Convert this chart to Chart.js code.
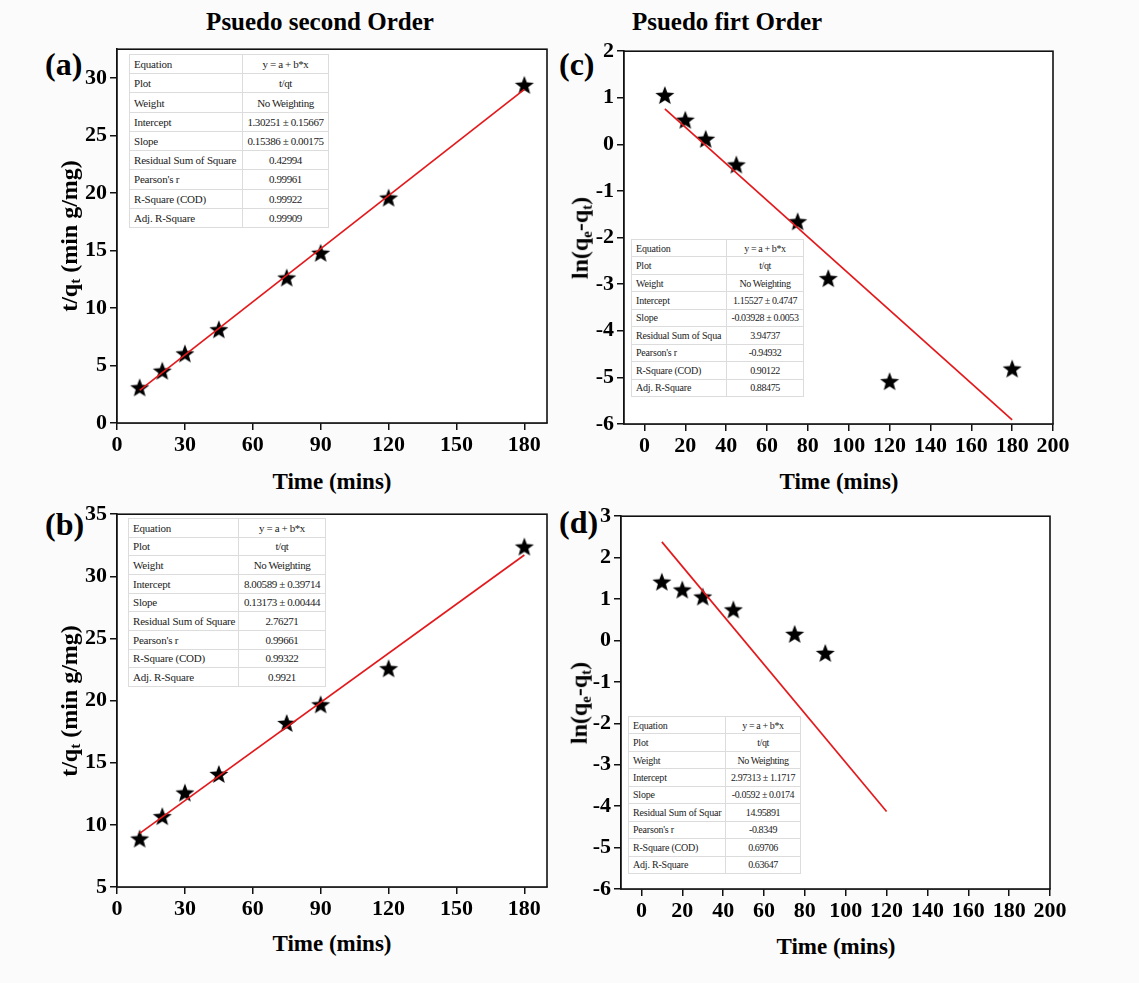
<!DOCTYPE html>
<html>
<head>
<meta charset="utf-8">
<script src="https://cdn.jsdelivr.net/npm/chart.js@4.4.1/dist/chart.umd.min.js"></script>
<style>
  html, body {
    margin: 0;
    padding: 0;
    width: 1139px;
    height: 983px;
    background: #fbfbfb;
    overflow: hidden;
    font-family: 'Liberation Serif', 'Times New Roman', serif;
  }
  canvas {
    position: absolute;
  }
  .txt {
    position: absolute;
    font-weight: bold;
    color: #000;
    white-space: nowrap;
    line-height: 1;
  }
  .title {
    font-size: 25px;
    transform: translate(-50%, -50%);
  }
  .panel-label {
    font-size: 32px;
    transform: translateY(-50%);
  }
  .xtitle {
    font-size: 23px;
    transform: translate(-50%, -50%);
  }
  .ytitle {
    font-size: 24px;
    transform: translate(-50%, -50%) rotate(-90deg);
  }
  .ytitle sub {
    font-size: 0.62em;
    vertical-align: -0.25em;
  }
  table.fit {
    position: absolute;
    border-collapse: collapse;
    background: #fff;
    border: 1.5px solid #9a9a9a;
    color: #222;
    font-family: 'Liberation Serif', serif;
    table-layout: fixed;
  }
  table.fit td {
    border: 1px solid #dcdcdc;
    padding: 0 0 0 4px;
    white-space: nowrap;
    overflow: hidden;
    letter-spacing: -0.2px;
  }
  table.fit td.val {
    text-align: center;
    padding: 0;
    letter-spacing: -0.4px;
  }
</style>
</head>
<body>
<div class="txt title" style="left:320px;top:21px;">Psuedo second Order</div>
<div class="txt title" style="left:727px;top:21px;">Psuedo firt Order</div>

<div class="txt panel-label" style="left:45px;top:64px;">(a)</div>
<div class="txt panel-label" style="left:45px;top:524px;">(b)</div>
<div class="txt panel-label" style="left:559px;top:64px;">(c)</div>
<div class="txt panel-label" style="left:559px;top:522px;">(d)</div>

<canvas id="chartA" width="501" height="426" style="left:62px;top:33px;"></canvas>
<canvas id="chartB" width="501" height="425" style="left:62px;top:498px;"></canvas>
<canvas id="chartC" width="504" height="425" style="left:569px;top:35px;"></canvas>
<canvas id="chartD" width="504" height="425" style="left:566px;top:500px;"></canvas>

<div class="txt ytitle" style="left:70px;top:236px;">t/q<sub>t</sub> (min g/mg)</div>
<div class="txt ytitle" style="left:70px;top:701px;">t/q<sub>t</sub> (min g/mg)</div>
<div class="txt ytitle" style="left:581px;top:238px;">ln(q<sub>e</sub>-q<sub>t</sub>)</div>
<div class="txt ytitle" style="left:580px;top:703px;">ln(q<sub>e</sub>-q<sub>t</sub>)</div>

<div class="txt xtitle" style="left:332px;top:481px;">Time (mins)</div>
<div class="txt xtitle" style="left:332px;top:943px;">Time (mins)</div>
<div class="txt xtitle" style="left:839px;top:481px;">Time (mins)</div>
<div class="txt xtitle" style="left:836px;top:946px;">Time (mins)</div>

<script>
// ---- data ----
const timeMins = [10, 20, 30, 45, 75, 90, 120, 180];
const timeMinsD = [10, 20, 30, 45, 75, 90];

const secondOrderA = [3.1, 4.55, 6.05, 8.15, 12.65, 14.8, 19.6, 29.4];
const secondOrderB = [8.9, 10.7, 12.6, 14.1, 18.2, 19.7, 22.6, 32.4];
const firstOrderC = [1.06, 0.53, 0.12, -0.43, -1.65, -2.87, -5.08, -4.81];
const firstOrderD = [1.42, 1.23, 1.06, 0.75, 0.16, -0.3];

// fitted line end points
const fitXA = [10, 180];
const fitYA = [2.84, 29.0];
const fitXB = [10, 180];
const fitYB = [9.32, 31.72];
const fitXC = [10, 180];
const fitYC = [0.76, -5.91];
const fitXD = [10, 120];
const fitYD = [2.38, -4.13];

// tick labels
const xTicksSecond = [0, 30, 60, 90, 120, 150, 180];
const xTicksFirst = [0, 20, 40, 60, 80, 100, 120, 140, 160, 180, 200];
const yTicksA = [0, 5, 10, 15, 20, 25, 30];
const yTicksB = [5, 10, 15, 20, 25, 30, 35];
const yTicksC = [-6, -5, -4, -3, -2, -1, 0, 1, 2];
const yTicksD = [-6, -5, -4, -3, -2, -1, 0, 1, 2, 3];

// fit tables
const tableLabels = ['Equation', 'Plot', 'Weight', 'Intercept', 'Slope', 'Residual Sum of Square', "Pearson's r", 'R-Square (COD)', 'Adj. R-Square'];
const tableLabelsC = ['Equation', 'Plot', 'Weight', 'Intercept', 'Slope', 'Residual Sum of Squa', "Pearson's r", 'R-Square (COD)', 'Adj. R-Square'];
const tableLabelsD = ['Equation', 'Plot', 'Weight', 'Intercept', 'Slope', 'Residual Sum of Squar', "Pearson's r", 'R-Square (COD)', 'Adj. R-Square'];
const tableValuesA = ['y = a + b*x', 't/qt', 'No Weighting', '1.30251 ± 0.15667', '0.15386 ± 0.00175', '0.42994', '0.99961', '0.99922', '0.99909'];
const tableValuesB = ['y = a + b*x', 't/qt', 'No Weighting', '8.00589 ± 0.39714', '0.13173 ± 0.00444', '2.76271', '0.99661', '0.99322', '0.9921'];
const tableValuesC = ['y = a + b*x', 't/qt', 'No Weighting', '1.15527 ± 0.4747', '-0.03928 ± 0.0053', '3.94737', '-0.94932', '0.90122', '0.88475'];
const tableValuesD = ['y = a + b*x', 't/qt', 'No Weighting', '2.97313 ± 1.1717', '-0.0592 ± 0.0174', '14.95891', '-0.8349', '0.69706', '0.63647'];

const TICK_FONT = { family: "'Liberation Serif', serif", size: 22, weight: 'bold' };

function makeStar(r) {
  const c = document.createElement('canvas');
  const size = Math.ceil(r * 2 + 2);
  c.width = size;
  c.height = size;
  const ctx = c.getContext('2d');
  const cx = size / 2;
  const cy = size / 2 + r * 0.1;
  ctx.beginPath();
  for (let i = 0; i < 10; i++) {
    const rad = i % 2 ? r * 0.42 : r;
    const a = -Math.PI / 2 + i * Math.PI / 5;
    ctx.lineTo(cx + rad * Math.cos(a), cy + rad * Math.sin(a));
  }
  ctx.closePath();
  ctx.fillStyle = '#000';
  ctx.fill();
  return c;
}

const starImage = makeStar(10);

const framePlugin = {
  id: 'frame',
  beforeDatasetsDraw(chart) {
    const { ctx, chartArea } = chart;
    ctx.save();
    ctx.fillStyle = '#fff';
    ctx.fillRect(chartArea.left, chartArea.top, chartArea.right - chartArea.left, chartArea.bottom - chartArea.top);
    ctx.restore();
  },
  afterDraw(chart) {
    const { ctx, chartArea } = chart;
    ctx.save();
    ctx.strokeStyle = '#111';
    ctx.lineWidth = 1.6;
    ctx.strokeRect(chartArea.left, chartArea.top, chartArea.right - chartArea.left, chartArea.bottom - chartArea.top);
    ctx.restore();
  },
};

function buildTable(left, top, width, height, labelWidth, fontSize, labels, values) {
  const table = document.createElement('table');
  table.className = 'fit';
  table.style.left = `${left}px`;
  table.style.top = `${top}px`;
  table.style.width = `${width}px`;
  table.style.height = `${height}px`;
  table.style.fontSize = `${fontSize}px`;
  const colgroup = document.createElement('colgroup');
  colgroup.innerHTML = `<col style="width:${labelWidth}px"><col>`;
  table.appendChild(colgroup);
  const rowHeight = height / labels.length;
  labels.forEach((label, i) => {
    const tr = document.createElement('tr');
    tr.style.height = `${rowHeight}px`;
    tr.innerHTML = `<td>${label}</td><td class="val">${values[i]}</td>`;
    table.appendChild(tr);
  });
  document.body.appendChild(table);
}

function buildPanel(canvasId, xs, ys, fitXs, fitYs, xRange, yRange, xTicks, yTicks, pad) {
  const points = xs.map((x, i) => ({ x, y: ys[i] }));
  const fitPoints = fitXs.map((x, i) => ({ x, y: fitYs[i] }));
  const ctx = document.getElementById(canvasId).getContext('2d');

  return new Chart(ctx, {
    type: 'scatter',
    data: {
      datasets: [
        {
          label: 'fit',
          data: fitPoints,
          showLine: true,
          borderColor: '#e3191c',
          borderWidth: 1.7,
          pointRadius: 0,
          fill: false,
        },
        {
          label: 'data',
          data: points,
          pointStyle: starImage,
          pointRadius: 10,
          showLine: false,
        },
      ],
    },
    options: {
      responsive: false,
      animation: false,
      devicePixelRatio: 1,
      layout: {
        padding: { top: pad.top, right: pad.right, left: 0, bottom: 0 },
      },
      plugins: {
        legend: { display: false },
        tooltip: { enabled: false },
      },
      scales: {
        x: {
          type: 'linear',
          min: xRange[0],
          max: xRange[1],
          afterBuildTicks: (scale) => {
            scale.ticks = xTicks.map((v) => ({ value: v }));
          },
          afterFit: (scale) => {
            scale.height = pad.xHeight;
          },
          grid: {
            drawOnChartArea: false,
            drawTicks: true,
            tickLength: 7,
            color: '#111',
            lineWidth: 1.5,
          },
          border: { display: true, color: '#111', width: 1.6 },
          ticks: {
            color: '#000',
            font: TICK_FONT,
            padding: 2,
            maxRotation: 0,
            autoSkip: false,
          },
        },
        y: {
          type: 'linear',
          min: yRange[0],
          max: yRange[1],
          afterBuildTicks: (scale) => {
            scale.ticks = yTicks.map((v) => ({ value: v }));
          },
          afterFit: (scale) => {
            scale.width = pad.yWidth;
          },
          grid: {
            drawOnChartArea: false,
            drawTicks: true,
            tickLength: 7,
            color: '#111',
            lineWidth: 1.5,
          },
          border: { display: true, color: '#111', width: 1.6 },
          ticks: {
            color: '#000',
            font: TICK_FONT,
            padding: 3,
            autoSkip: false,
          },
        },
      },
    },
    plugins: [framePlugin],
  });
}

document.addEventListener('DOMContentLoaded', () => {
  buildPanel('chartA', timeMins, secondOrderA, fitXA, fitYA, [0, 190], [0, 32.5], xTicksSecond, yTicksA,
    { top: 14, right: 16, yWidth: 55, xHeight: 36 });
  buildPanel('chartB', timeMins, secondOrderB, fitXB, fitYB, [0, 190], [5, 35], xTicksSecond, yTicksB,
    { top: 14, right: 16, yWidth: 55, xHeight: 36 });
  buildPanel('chartC', timeMins, firstOrderC, fitXC, fitYC, [-10, 200], [-6, 2], xTicksFirst, yTicksC,
    { top: 14, right: 20, yWidth: 55, xHeight: 36 });
  buildPanel('chartD', timeMinsD, firstOrderD, fitXD, fitYD, [-10, 200], [-6, 3], xTicksFirst, yTicksD,
    { top: 14, right: 20, yWidth: 55, xHeight: 36 });

  buildTable(129, 54, 200, 173, 113, 11, tableLabels, tableValuesA);
  buildTable(128, 518, 198, 168, 110, 11, tableLabels, tableValuesB);
  buildTable(631, 239, 173, 157, 95, 10, tableLabelsC, tableValuesC);
  buildTable(628, 716, 173, 157, 97, 10, tableLabelsD, tableValuesD);
});
</script>
</body>
</html>
